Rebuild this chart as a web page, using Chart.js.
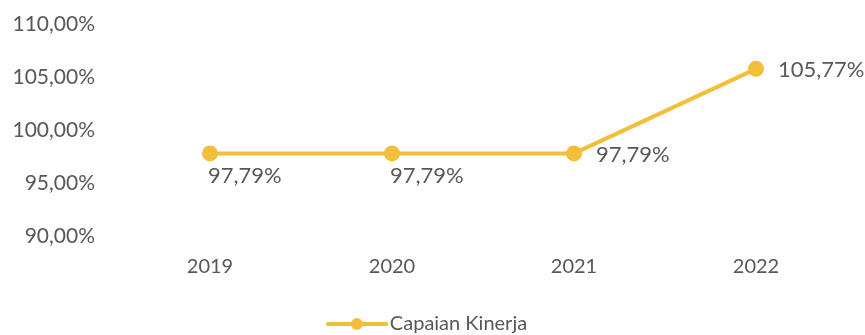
<!DOCTYPE html>
<html>
<head>
<meta charset="utf-8">
<script src="https://cdn.jsdelivr.net/npm/chart.js@4.4.1/dist/chart.umd.min.js"></script>
<style>
  html, body { margin: 0; padding: 0; background: #fff; }
  #wrap { width: 865px; height: 335px; position: relative; }
</style>
</head>
<body>
<div id="wrap"><canvas id="myChart"></canvas></div>
<script>
const years = ["2019", "2020", "2021", "2022"];
const capaian = [97.79, 97.79, 97.79, 105.77];
const yTicks = [90, 95, 100, 105, 110];
const seriesName = "Capaian Kinerja";

const gold = "#F3BF3A";
const textColor = "#5b5657";
const fontFamily = "Lato, 'Open Sans', sans-serif";

const fmt = (v) => v.toFixed(2).replace(".", ",") + "%";

// legend marker: line with a dot, like the office-style legend
// (drawn a bit off-centre so the line runs up to the text)
const marker = document.createElement("canvas");
marker.width = 76;
marker.height = 14;
(() => {
  const c = marker.getContext("2d");
  c.strokeStyle = gold;
  c.lineWidth = 4;
  c.lineCap = "round";
  c.beginPath();
  c.moveTo(16, 7);
  c.lineTo(75, 7);
  c.stroke();
  c.fillStyle = gold;
  c.beginPath();
  c.arc(45, 7, 6, 0, Math.PI * 2);
  c.fill();
})();

// where each value label sits relative to its point
const labelPos = ["below", "below", "right", "right"];

const valueLabels = {
  id: "valueLabels",
  afterDatasetsDraw(chart) {
    const ctx = chart.ctx;
    const meta = chart.getDatasetMeta(0);
    ctx.save();
    ctx.font = "22px " + fontFamily;
    ctx.fillStyle = textColor;
    ctx.textBaseline = "middle";
    ctx.textAlign = "left";
    meta.data.forEach((pt, i) => {
      const txt = fmt(capaian[i]);
      if (labelPos[i] === "below") {
        ctx.fillText(txt, pt.x - 2, pt.y + 22);
      } else {
        ctx.fillText(txt, pt.x + 22, pt.y + 1);
      }
    });
    ctx.restore();
  },
};

const canvas = document.querySelector("canvas#myChart");
new Chart(canvas, {
  type: "line",
  data: {
    labels: years,
    datasets: [
      {
        label: seriesName,
        data: capaian,
        borderColor: gold,
        backgroundColor: gold,
        borderWidth: 4,
        pointRadius: 6,
        pointHoverRadius: 6,
        pointBackgroundColor: gold,
        pointBorderColor: gold,
        tension: 0,
        fill: false,
      },
    ],
  },
  options: {
    responsive: true,
    maintainAspectRatio: false,
    animation: false,
    // negative bottom pads the legend further down, nearer the edge
    layout: { padding: { top: 24, right: 18, left: 0, bottom: -9 } },
    plugins: {
      tooltip: { enabled: false },
      legend: {
        position: "bottom",
        labels: {
          color: textColor,
          font: { family: fontFamily, size: 20 },
          usePointStyle: true,
          pointStyleWidth: 60,
          padding: 2,
          generateLabels: (chart) => [
            {
              text: seriesName,
              pointStyle: marker,
              fontColor: textColor,
              datasetIndex: 0,
              hidden: false,
            },
          ],
        },
      },
    },
    scales: {
      x: {
        offset: true,
        grid: { display: false },
        border: { display: false },
        ticks: {
          color: textColor,
          font: { family: fontFamily, size: 20 },
          padding: 11,
        },
        afterFit: (s) => {
          s.height = 76;
        },
      },
      y: {
        min: 90,
        max: 110,
        grid: { display: false },
        border: { display: false },
        afterBuildTicks: (s) => {
          s.ticks = yTicks.map((v) => ({ value: v }));
        },
        ticks: {
          color: textColor,
          font: { family: fontFamily, size: 21 },
          padding: 16,
          callback: (v) => fmt(v),
        },
        afterFit: (s) => {
          s.width = 119;
          s.paddingTop = 12;
          s.paddingBottom = 12;
        },
      },
    },
  },
  plugins: [valueLabels],
});
</script>
</body>
</html>
